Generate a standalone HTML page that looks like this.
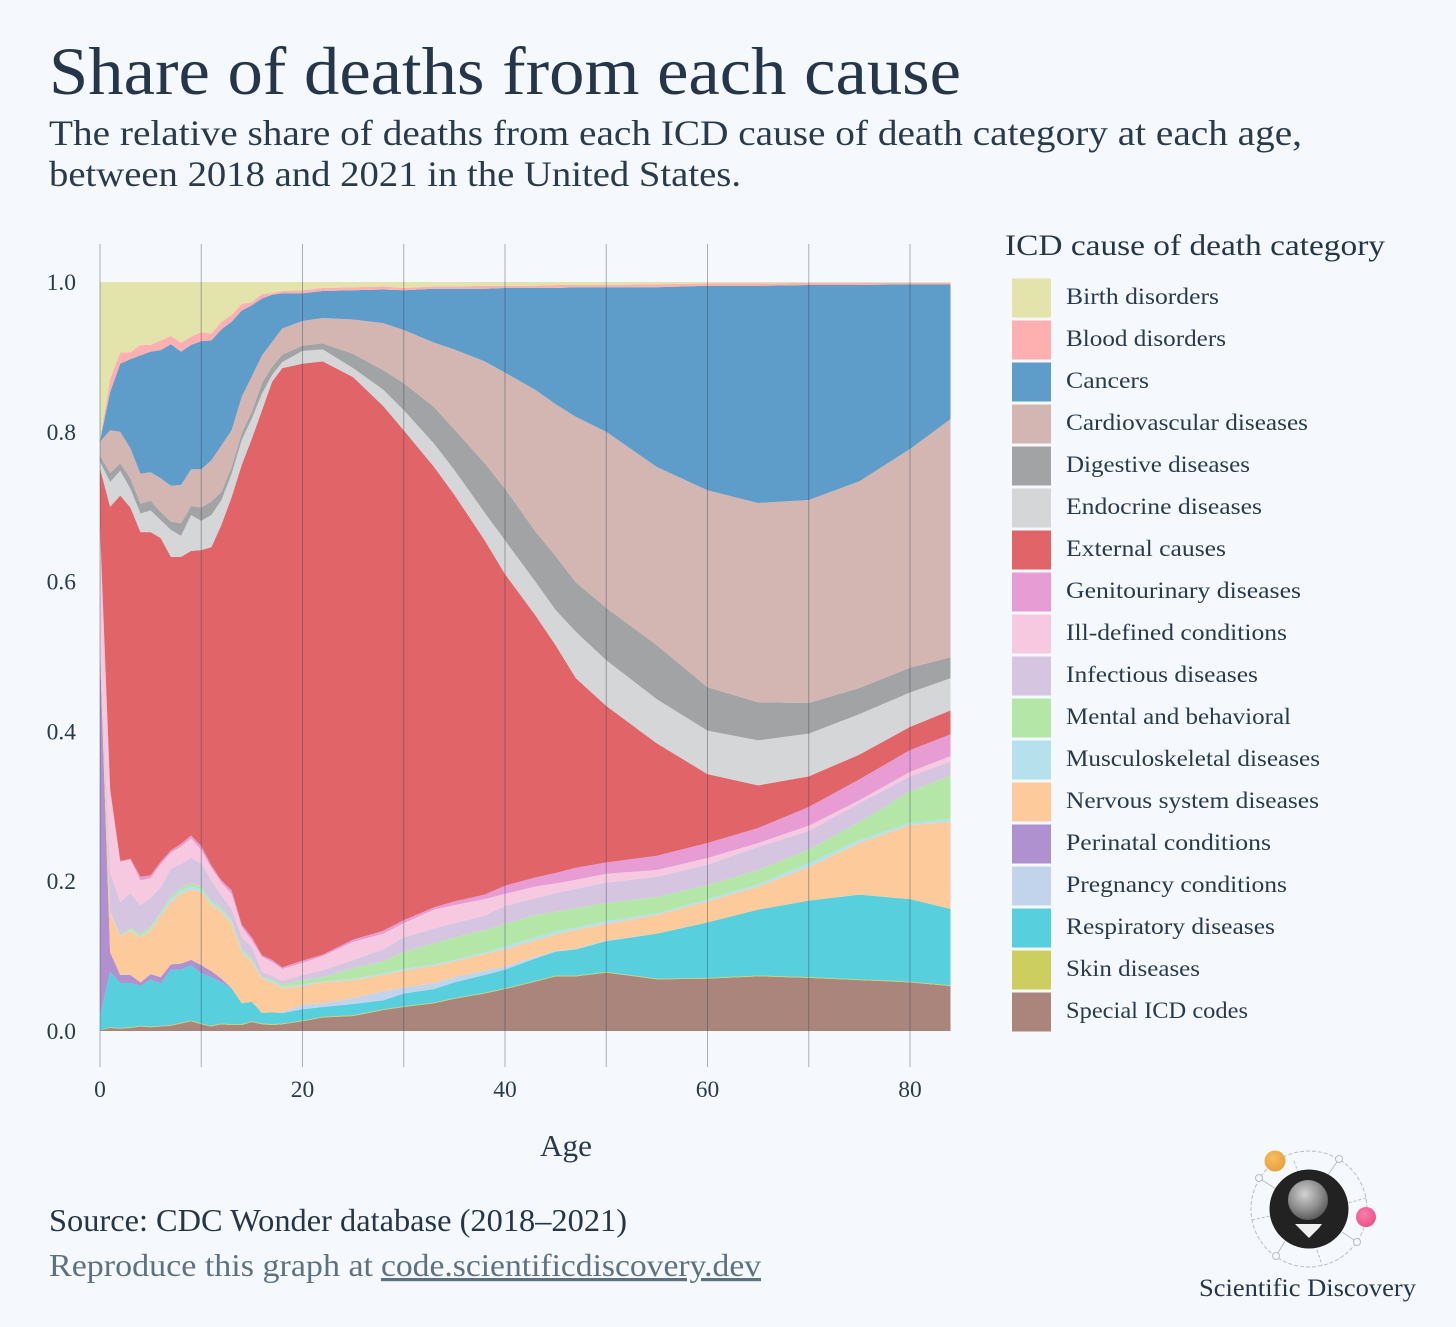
<!DOCTYPE html>
<html lang="en">
<head>
<meta charset="utf-8">
<title>Share of deaths from each cause</title>
<style>
  html, body { margin: 0; padding: 0; background: #f5f9fd; }
  svg { display: block; }
  text { font-family: "Liberation Serif", serif; }
</style>
</head>
<body>
<svg id="figure" xmlns="http://www.w3.org/2000/svg" width="1456" height="1327" viewBox="0 0 1456 1327">
  <rect x="0" y="0" width="1456" height="1327" fill="#f5f9fd"/>

  <text x="49" y="94" font-size="68" fill="#26364a" textLength="912" lengthAdjust="spacingAndGlyphs">Share of deaths from each cause</text>
  <text x="49" y="145" font-size="36" fill="#2a3a4d" textLength="1253" lengthAdjust="spacingAndGlyphs">The relative share of deaths from each ICD cause of death category at each age,</text>
  <text x="49" y="186" font-size="36" fill="#2a3a4d" textLength="692" lengthAdjust="spacingAndGlyphs">between 2018 and 2021 in the United States.</text>

  <g id="areas"></g>
  <g id="grid"></g>
  <g id="xticks"></g>
  <g id="yticks"></g>
  <text x="566" y="1156" font-size="31" fill="#2a3a4d" text-anchor="middle" textLength="52" lengthAdjust="spacingAndGlyphs">Age</text>

  <g>
    <text x="1005" y="255" font-size="30" fill="#26364a" textLength="380" lengthAdjust="spacingAndGlyphs">ICD cause of death category</text>
    <g font-size="23.5" fill="#2a3a4d" stroke="none">
      <g><rect x="1012" y="278.5" width="39" height="39" fill="#e3e3ac"/><text x="1066" y="304" textLength="153" lengthAdjust="spacingAndGlyphs">Birth disorders</text></g>
      <g><rect x="1012" y="320.5" width="39" height="39" fill="#feb0b0"/><text x="1066" y="346" textLength="160" lengthAdjust="spacingAndGlyphs">Blood disorders</text></g>
      <g><rect x="1012" y="362.5" width="39" height="39" fill="#5e9cc9"/><text x="1066" y="388" textLength="83" lengthAdjust="spacingAndGlyphs">Cancers</text></g>
      <g><rect x="1012" y="404.5" width="39" height="39" fill="#d3b6b2"/><text x="1066" y="430" textLength="242" lengthAdjust="spacingAndGlyphs">Cardiovascular diseases</text></g>
      <g><rect x="1012" y="446.5" width="39" height="39" fill="#a2a3a5"/><text x="1066" y="472" textLength="184" lengthAdjust="spacingAndGlyphs">Digestive diseases</text></g>
      <g><rect x="1012" y="488.5" width="39" height="39" fill="#d5d6d8"/><text x="1066" y="514" textLength="196" lengthAdjust="spacingAndGlyphs">Endocrine diseases</text></g>
      <g><rect x="1012" y="530.5" width="39" height="39" fill="#e16568"/><text x="1066" y="556" textLength="160" lengthAdjust="spacingAndGlyphs">External causes</text></g>
      <g><rect x="1012" y="572.5" width="39" height="39" fill="#e79cd4"/><text x="1066" y="598" textLength="235" lengthAdjust="spacingAndGlyphs">Genitourinary diseases</text></g>
      <g><rect x="1012" y="614.5" width="39" height="39" fill="#f7c9e0"/><text x="1066" y="640" textLength="221" lengthAdjust="spacingAndGlyphs">Ill-defined conditions</text></g>
      <g><rect x="1012" y="656.5" width="39" height="39" fill="#d5c5e0"/><text x="1066" y="682" textLength="192" lengthAdjust="spacingAndGlyphs">Infectious diseases</text></g>
      <g><rect x="1012" y="698.5" width="39" height="39" fill="#b4e6a8"/><text x="1066" y="724" textLength="225" lengthAdjust="spacingAndGlyphs">Mental and behavioral</text></g>
      <g><rect x="1012" y="740.5" width="39" height="39" fill="#b6e1ec"/><text x="1066" y="766" textLength="254" lengthAdjust="spacingAndGlyphs">Musculoskeletal diseases</text></g>
      <g><rect x="1012" y="782.5" width="39" height="39" fill="#fdcb9b"/><text x="1066" y="808" textLength="253" lengthAdjust="spacingAndGlyphs">Nervous system diseases</text></g>
      <g><rect x="1012" y="824.5" width="39" height="39" fill="#af91d0"/><text x="1066" y="850" textLength="205" lengthAdjust="spacingAndGlyphs">Perinatal conditions</text></g>
      <g><rect x="1012" y="866.5" width="39" height="39" fill="#c2d3ec"/><text x="1066" y="892" textLength="221" lengthAdjust="spacingAndGlyphs">Pregnancy conditions</text></g>
      <g><rect x="1012" y="908.5" width="39" height="39" fill="#57cfdd"/><text x="1066" y="934" textLength="209" lengthAdjust="spacingAndGlyphs">Respiratory diseases</text></g>
      <g><rect x="1012" y="950.5" width="39" height="39" fill="#cccf5f"/><text x="1066" y="976" textLength="134" lengthAdjust="spacingAndGlyphs">Skin diseases</text></g>
      <g><rect x="1012" y="992.5" width="39" height="39" fill="#aa857c"/><text x="1066" y="1018" textLength="182" lengthAdjust="spacingAndGlyphs">Special ICD codes</text></g>
    </g>
  </g>

  <text x="49" y="1231" font-size="32" fill="#263548" textLength="578" lengthAdjust="spacingAndGlyphs">Source: CDC Wonder database (2018–2021)</text>
  <text x="49" y="1276" font-size="32" fill="#5f7181" textLength="324" lengthAdjust="spacingAndGlyphs">Reproduce this graph at</text>
  <text x="381" y="1276" font-size="32" fill="#5f7181" text-decoration="underline" textLength="380" lengthAdjust="spacingAndGlyphs">code.scientificdiscovery.dev</text>

  <g>
    <defs>
      <radialGradient id="balloonGrad" cx="42%" cy="35%" r="68%">
        <stop offset="0%" stop-color="#d2d2d2"/>
        <stop offset="55%" stop-color="#939393"/>
        <stop offset="100%" stop-color="#565656"/>
      </radialGradient>
      <radialGradient id="orangeGrad" cx="40%" cy="35%" r="70%">
        <stop offset="0%" stop-color="#f5bd62"/>
        <stop offset="100%" stop-color="#e99f3a"/>
      </radialGradient>
      <radialGradient id="pinkGrad" cx="40%" cy="35%" r="70%">
        <stop offset="0%" stop-color="#f77fa8"/>
        <stop offset="100%" stop-color="#ec4e8a"/>
      </radialGradient>
    </defs>
    <circle cx="1309" cy="1209" r="58" fill="none" stroke="#b9bcc0" stroke-width="1" stroke-dasharray="4 2"/>
    <g stroke="#b9bcc0" stroke-width="1" fill="none">
      <path d="M1259 1178 L1276 1189"/>
      <path d="M1339 1159 L1328 1175"/>
      <path d="M1357 1242 L1342 1232"/>
      <path d="M1276 1256 L1285 1241"/>
      <path d="M1294 1161 L1298 1172" stroke-dasharray="3 2"/>
      <path d="M1366 1198 L1348 1203" stroke-dasharray="3 2"/>
      <path d="M1252 1220 L1270 1216" stroke-dasharray="3 2"/>
      <path d="M1317 1250 L1322 1265" stroke-dasharray="3 2"/>
    </g>
    <circle cx="1259" cy="1178" r="3.5" fill="#f5f9fd" stroke="#b9bcc0"/>
    <circle cx="1339" cy="1159" r="3.5" fill="#f5f9fd" stroke="#b9bcc0"/>
    <circle cx="1357" cy="1242" r="3.5" fill="#f5f9fd" stroke="#b9bcc0"/>
    <circle cx="1276" cy="1256" r="3.5" fill="#f5f9fd" stroke="#b9bcc0"/>
    <circle cx="1309" cy="1209" r="39.5" fill="#222222"/>
    <circle cx="1308" cy="1200" r="20" fill="url(#balloonGrad)"/>
    <path d="M1295 1224 L1322 1224 L1319 1228 L1309 1238 L1299 1228 Z" fill="#f0f0f0"/>
    <circle cx="1275" cy="1161" r="10.5" fill="url(#orangeGrad)"/>
    <circle cx="1366" cy="1217" r="10" fill="url(#pinkGrad)"/>
  </g>
  <text x="1199" y="1296" font-size="25" fill="#26364a" textLength="217" lengthAdjust="spacingAndGlyphs">Scientific Discovery</text>
</svg>

<script>
// Ages (x categories)
const ages = [0,1,2,3,4,5,6,7,8,9,10,11,12,13,14,15,16,17,18,20,22,25,28,30,33,35,38,40,43,45,47,50,55,60,65,70,75,80,84];

// Share of deaths per series, in thousandths (per mille) of all deaths, at each age
const specialIcd = [1,4,3,4,6,5,6,7,10,13,9,6,9,8,8,12,9,8,9,13,18,20,28,32,37,43,50,56,66,73,73,78,69,70,73,71,68,65,60];
const skin = [0,1,1,1,1,1,1,1,1,1,1,1,1,1,1,1,1,1,1,1,1,1,1,1,1,1,1,1,1,1,1,1,1,1,1,1,1,1,1];
const respiratory = [19,74,60,59,53,63,56,74,71,74,67,65,55,48,28,26,14,16,14,15,13,15,12,17,18,21,24,25,30,32,35,41,60,74,88,102,113,110,102];
const pregnancy = [0,0,0,0,0,0,0,0,0,0,0,0,0,0,0,0,0,0,1,6,5,8,12,8,8,7,6,4,2,1,1,1,0,0,0,0,0,0,0];
const perinatal = [485,26,11,11,5,7,9,7,8,7,11,8,5,0,0,0,0,0,0,0,0,0,0,0,0,0,0,0,0,0,0,0,0,0,0,0,0,0,0];
const nervous = [13,52,51,59,60,58,82,83,93,94,98,88,89,86,68,53,46,40,32,25,28,24,22,23,23,21,22,23,22,22,25,22,25,28,31,45,69,99,116];
const musculoskeletal = [1,1,1,2,1,3,3,4,4,4,3,3,3,3,3,2,1,2,2,2,1,2,2,2,2,2,2,4,4,4,3,4,2,3,3,5,4,3,4];
const mental = [1,1,1,2,4,3,2,4,4,5,4,3,3,2,2,3,1,2,3,6,6,14,16,23,28,30,30,30,30,26,26,24,22,19,19,18,24,42,58];
const infectious = [5,53,44,46,38,38,33,37,32,33,31,27,16,15,15,15,7,5,5,7,9,11,16,19,20,19,19,24,22,25,26,27,27,27,31,25,25,20,19];
const illDefined = [140,109,54,45,33,26,31,21,23,26,18,17,17,20,14,9,20,18,16,16,19,24,21,19,25,24,22,16,16,13,12,12,9,9,5,7,4,6,7];
const genitourinary = [8,2,1,1,5,4,3,3,4,4,5,3,3,5,3,4,2,3,2,3,2,3,4,4,3,5,6,11,12,14,16,15,19,20,20,25,28,29,29];
const external = [78,377,488,469,460,458,432,392,383,380,395,425,475,525,614,666,728,772,800,797,792,751,700,654,588,543,473,416,350,304,253,209,150,92,57,41,33,31,32];
const endocrine = [9,33,33,25,25,29,24,36,28,48,39,43,33,31,33,27,22,9,8,17,16,12,22,27,31,33,37,45,45,47,62,61,59,58,60,57,54,46,43];
const digestive = [8,12,10,14,13,13,11,11,17,12,18,18,11,9,9,9,14,11,10,7,8,19,26,36,49,54,66,69,67,72,66,70,72,58,51,41,35,33,28];
const cardiovascular = [19,57,42,40,40,38,45,48,51,49,51,55,62,49,49,47,37,33,35,33,34,46,63,71,86,107,136,155,189,203,221,235,238,263,266,271,276,292,318];
const cancers = [1,51,91,119,158,161,171,189,178,166,171,160,155,145,115,95,76,63,47,37,36,39,45,53,72,81,97,113,136,155,173,193,240,273,290,287,262,220,180];
const blood = [1,18,15,9,14,9,13,11,12,11,12,9,10,9,9,4,6,2,3,4,4,4,4,3,3,3,4,3,3,4,3,3,4,3,3,3,3,2,2];
const birth = [211,129,94,94,84,84,78,72,81,73,67,69,53,44,29,27,16,15,12,11,8,7,6,8,6,6,5,5,5,4,4,4,3,2,2,1,1,1,1];

// Tick labels
const xGridAges = [0,10,20,30,40,50,60,70,80];
const xTickLabels = ["0","20","40","60","80"];
const yTickLabels = ["0.0","0.2","0.4","0.6","0.8","1.0"];

// Stack order, bottom to top
const stackValues = [specialIcd, skin, respiratory, pregnancy, perinatal, nervous, musculoskeletal, mental, infectious, illDefined, genitourinary, external, endocrine, digestive, cardiovascular, cancers, blood, birth];
const stackNames = ["special-icd-codes","skin-diseases","respiratory-diseases","pregnancy-conditions","perinatal-conditions","nervous-system-diseases","musculoskeletal-diseases","mental-and-behavioral","infectious-diseases","ill-defined-conditions","genitourinary-diseases","external-causes","endocrine-diseases","digestive-diseases","cardiovascular-diseases","cancers","blood-disorders","birth-disorders"];
const stackColors = ["#aa857c","#cccf5f","#57cfdd","#c2d3ec","#af91d0","#fdcb9b","#b6e1ec","#b4e6a8","#d5c5e0","#f7c9e0","#e79cd4","#e16568","#d5d6d8","#a2a3a5","#d3b6b2","#5e9cc9","#feb0b0","#e3e3ac"];

const NS = "http://www.w3.org/2000/svg";
function xScale(age) { return 100 + age * (810 / 80); }
function yScale(perMille) { return 1031 - perMille * (749 / 1000); }

const areasGroup = document.getElementById("areas");
let running = ages.map(function () { return 0; });
stackValues.forEach(function (values, s) {
  const lower = running.slice();
  const upper = running.map(function (base, i) { return base + values[i]; });
  const top = ages.map(function (a, i) { return xScale(a).toFixed(2) + "," + yScale(upper[i]).toFixed(2); });
  const bottom = ages.map(function (a, i) { return xScale(a).toFixed(2) + "," + yScale(lower[i]).toFixed(2); }).reverse();
  const poly = document.createElementNS(NS, "polygon");
  poly.setAttribute("points", top.concat(bottom).join(" "));
  poly.setAttribute("fill", stackColors[s]);
  
  
  areasGroup.appendChild(poly);
  running = upper;
});

const gridGroup = document.getElementById("grid");
xGridAges.forEach(function (a) {
  const line = document.createElementNS(NS, "line");
  line.setAttribute("x1", xScale(a));
  line.setAttribute("x2", xScale(a));
  line.setAttribute("y1", 244);
  line.setAttribute("y2", 1067);
  line.setAttribute("stroke", "rgba(38,54,74,0.38)");
  line.setAttribute("stroke-width", 1);
  
  
  gridGroup.appendChild(line);
});

const xTicksGroup = document.getElementById("xticks");
xTickLabels.forEach(function (label) {
  const t = document.createElementNS(NS, "text");
  t.setAttribute("x", xScale(Number(label)));
  t.setAttribute("y", 1097);
  t.setAttribute("font-size", 23.5);
  t.setAttribute("fill", "#2a3a4d");
  t.setAttribute("text-anchor", "middle");
  
  
  t.textContent = label;
  xTicksGroup.appendChild(t);
});

const yTicksGroup = document.getElementById("yticks");
yTickLabels.forEach(function (label) {
  const t = document.createElementNS(NS, "text");
  t.setAttribute("x", 76);
  t.setAttribute("y", yScale(Number(label) * 1000) + 8);
  t.setAttribute("font-size", 23.5);
  t.setAttribute("fill", "#2a3a4d");
  t.setAttribute("text-anchor", "end");
  
  
  t.textContent = label;
  yTicksGroup.appendChild(t);
});
</script>
</body>
</html>
